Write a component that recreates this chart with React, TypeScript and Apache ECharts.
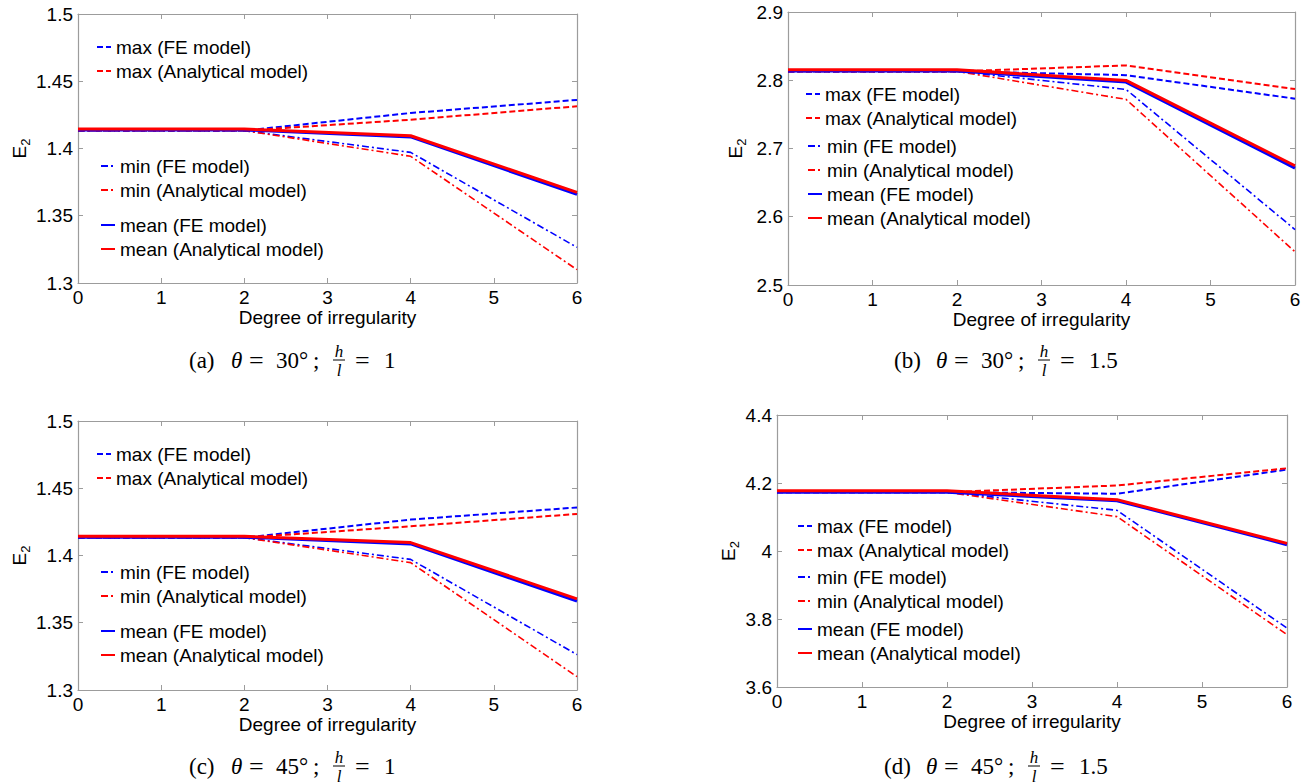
import React, { useEffect, useRef } from 'react';
import * as echarts from 'echarts';

// Degree of irregularity (x)
const xValues = [0, 2, 4, 6];

// (a) theta = 30°, h/l = 1
const aMaxFE = [1.4133, 1.4133, 1.4264, 1.4361];
const aMaxAn = [1.4133, 1.4133, 1.4214, 1.4314];
const aMinFE = [1.4133, 1.4133, 1.3971, 1.3265];
const aMinAn = [1.4133, 1.4133, 1.3942, 1.3099];
const aMeanFE = [1.4138, 1.4138, 1.4086, 1.3659];
const aMeanAn = [1.4145, 1.4145, 1.4095, 1.3674];

// (b) theta = 30°, h/l = 1.5
const bMaxFE = [2.813, 2.813, 2.8075, 2.773];
const bMaxAn = [2.813, 2.813, 2.8217, 2.7871];
const bMinFE = [2.813, 2.813, 2.7866, 2.5813];
const bMinAn = [2.813, 2.813, 2.772, 2.5487];
const bMeanFE = [2.8134, 2.8134, 2.7973, 2.6713];
const bMeanAn = [2.8153, 2.8153, 2.7998, 2.6747];

// (c) theta = 45°, h/l = 1
const cMaxFE = [1.4133, 1.4133, 1.4267, 1.4357];
const cMaxAn = [1.4133, 1.4133, 1.4217, 1.4309];
const cMinFE = [1.4133, 1.4133, 1.3971, 1.3263];
const cMinAn = [1.4133, 1.4133, 1.3947, 1.3099];
const cMeanFE = [1.4136, 1.4136, 1.4086, 1.3661];
const cMeanAn = [1.4143, 1.4143, 1.4096, 1.3678];

// (d) theta = 45°, h/l = 1.5
const dMaxFE = [4.173, 4.173, 4.1684, 4.2394];
const dMaxAn = [4.173, 4.173, 4.1927, 4.2433];
const dMinFE = [4.173, 4.173, 4.1197, 3.7732];
const dMinAn = [4.173, 4.173, 4.1012, 3.7538];
const dMeanFE = [4.173, 4.173, 4.148, 4.0185];
const dMeanAn = [4.177, 4.177, 4.151, 4.0224];

const seriesNames = [
  'max (FE model)',
  'max (Analytical model)',
  'min (FE model)',
  'min (Analytical model)',
  'mean (FE model)',
  'mean (Analytical model)',
];

const captionLetters = ['(a)', '(b)', '(c)', '(d)'];
const captionAngles = ['30°', '30°', '45°', '45°'];
const captionRatios = ['1', '1.5', '1', '1.5'];

const SANS = '"Liberation Sans", Arial, Helvetica, sans-serif';
const SERIF = '"Liberation Serif", "Times New Roman", serif';
const AXIS_GRAY = '#9c9c9c';
const BLUE = '#0000ff';
const RED = '#ff0000';

const styles = [
  { color: BLUE, width: 2, type: [6, 3] },
  { color: RED, width: 2, type: [6, 3] },
  { color: BLUE, width: 1.6, type: [7, 3, 2, 3] },
  { color: RED, width: 1.6, type: [7, 3, 2, 3] },
  { color: BLUE, width: 3, type: 'solid' },
  { color: RED, width: 3, type: 'solid' },
];

const panels = [
  {
    grid: { left: 78, top: 14, width: 499, height: 269 },
    yMin: 1.3, yMax: 1.5, yInt: 0.05, yNameGap: 44,
    data: [aMaxFE, aMaxAn, aMinFE, aMinAn, aMeanFE, aMeanAn],
    legendX: [96, 100, 100],
    legendY: [47, 166, 225],
    caption: { x: 189, y: 360 },
  },
  {
    grid: { left: 788, top: 12, width: 507, height: 273 },
    yMin: 2.5, yMax: 2.9, yInt: 0.1, yNameGap: 40,
    data: [bMaxFE, bMaxAn, bMinFE, bMinAn, bMeanFE, bMeanAn],
    legendX: [805, 807, 807],
    legendY: [94, 146, 194],
    caption: { x: 894, y: 360 },
  },
  {
    grid: { left: 78, top: 421, width: 499, height: 269 },
    yMin: 1.3, yMax: 1.5, yInt: 0.05, yNameGap: 44,
    data: [cMaxFE, cMaxAn, cMinFE, cMinAn, cMeanFE, cMeanAn],
    legendX: [96, 100, 100],
    legendY: [454, 572, 631],
    caption: { x: 189, y: 766 },
  },
  {
    grid: { left: 777, top: 415, width: 510, height: 272 },
    yMin: 3.6, yMax: 4.4, yInt: 0.2, yNameGap: 36,
    data: [dMaxFE, dMaxAn, dMinFE, dMinAn, dMeanFE, dMeanAn],
    legendX: [797, 797, 797],
    legendY: [526, 577, 629],
    caption: { x: 884, y: 766 },
  },
];

// offsets of caption pieces relative to caption start
const capOffsets = [0, 42, 60, 87, 124, 150, 166, 195];

function buildCaption(i: number) {
  const p = panels[i];
  const x0 = p.caption.x;
  const y = p.caption.y;
  const fs = 23;
  const base = { fontFamily: SERIF, fontSize: fs, fill: '#000', verticalAlign: 'middle', align: 'left' };
  const els: any[] = [];
  const put = (text: string, dx: number, extra: any = {}) =>
    els.push({ type: 'text', x: x0 + dx, y, style: { ...base, text, ...extra } });
  put(captionLetters[i], capOffsets[0]);
  put('θ', capOffsets[1], { fontStyle: 'italic' });
  put('=', capOffsets[2], { fontSize: 26 });
  put(captionAngles[i], capOffsets[3]);
  put(';', capOffsets[4]);
  const fx = x0 + capOffsets[5];
  els.push({ type: 'text', x: fx, y: y - 9, style: { ...base, fontSize: 17, text: 'h', fontStyle: 'italic', align: 'center' } });
  els.push({ type: 'text', x: fx, y: y + 10, style: { ...base, fontSize: 17, text: 'l', fontStyle: 'italic', align: 'center' } });
  els.push({ type: 'line', shape: { x1: fx - 6, y1: y, x2: fx + 6, y2: y }, style: { stroke: '#000', lineWidth: 1 } });
  put('=', capOffsets[6], { fontSize: 26 });
  put(captionRatios[i], capOffsets[7]);
  return els;
}

export default function App() {
  const ref = useRef<HTMLDivElement>(null);
  useEffect(() => {
    document.body.style.margin = '0';
    if (!ref.current) return;
    const chart = echarts.init(ref.current, null, { renderer: 'svg' });

    const grids: any[] = [];
    const xAxes: any[] = [];
    const yAxes: any[] = [];
    const series: any[] = [];
    const legends: any[] = [];
    let graphics: any[] = [];

    const tickStyle = { show: true, inside: true, length: 5, lineStyle: { color: AXIS_GRAY, width: 1 } };
    const lineStyle = { show: true, onZero: false, lineStyle: { color: AXIS_GRAY, width: 1.2 } };

    panels.forEach((p, i) => {
      grids.push({ ...p.grid, containLabel: false });
      xAxes.push({
        gridIndex: i, type: 'value', position: 'bottom', min: 0, max: 6, interval: 1,
        axisLine: lineStyle, axisTick: tickStyle, splitLine: { show: false },
        axisLabel: { fontSize: 19, color: '#000', fontFamily: SANS, margin: 5 },
        name: 'Degree of irregularity', nameLocation: 'middle', nameGap: 24,
        nameTextStyle: { fontSize: 19, color: '#000', fontFamily: SANS },
      });
      xAxes.push({
        gridIndex: i, type: 'value', position: 'top', min: 0, max: 6, interval: 1,
        axisLine: lineStyle, axisTick: tickStyle, splitLine: { show: false },
        axisLabel: { show: false },
      });
      yAxes.push({
        gridIndex: i, type: 'value', position: 'left', min: p.yMin, max: p.yMax, interval: p.yInt,
        axisLine: lineStyle, axisTick: tickStyle, splitLine: { show: false },
        axisLabel: { fontSize: 19, color: '#000', fontFamily: SANS, margin: 5 },
        name: 'E{s|2}', nameLocation: 'middle', nameGap: p.yNameGap,
        nameTextStyle: {
          fontSize: 19, color: '#000', fontFamily: SANS,
          rich: { s: { fontSize: 13, color: '#000', fontFamily: SANS, padding: [12, 0, 0, 0] } },
        },
      });
      yAxes.push({
        gridIndex: i, type: 'value', position: 'right', min: p.yMin, max: p.yMax, interval: p.yInt,
        axisLine: lineStyle, axisTick: tickStyle, splitLine: { show: false },
        axisLabel: { show: false },
      });
      p.data.forEach((vals, k) => {
        const st = styles[k];
        series.push({
          type: 'line', name: seriesNames[k], xAxisIndex: 2 * i, yAxisIndex: 2 * i,
          data: xValues.map((x, j) => [x, vals[j]]),
          symbol: 'none', showSymbol: false,
          lineStyle: { color: st.color, width: st.width, type: st.type },
          itemStyle: { color: st.color },
          z: 2 + k,
        });
      });
      for (let g = 0; g < 3; g++) {
        legends.push({
          orient: 'vertical', left: p.legendX[g], top: p.legendY[g] - 10, padding: 0,
          itemWidth: 14, itemHeight: 14, itemGap: 4, selectedMode: false,
          itemStyle: { opacity: 0 },
          textStyle: { fontSize: 19, lineHeight: 20, color: '#000', fontFamily: SANS },
          data: [seriesNames[2 * g], seriesNames[2 * g + 1]],
        });
      }
      graphics = graphics.concat(buildCaption(i));
    });

    chart.setOption({
      animation: false,
      backgroundColor: '#fff',
      grid: grids,
      xAxis: xAxes,
      yAxis: yAxes,
      legend: legends,
      series,
      graphic: graphics,
    });
    return () => chart.dispose();
  }, []);
  return <div ref={ref} style={{ width: 1311, height: 784 }} />;
}
